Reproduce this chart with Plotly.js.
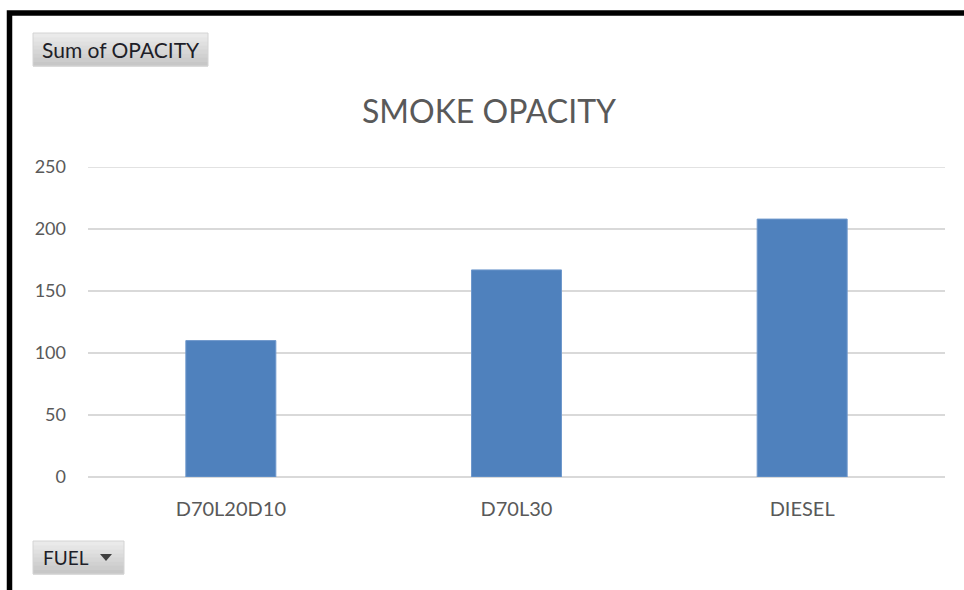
<!DOCTYPE html>
<html>
<head>
<meta charset="utf-8">
<script src="https://cdn.plot.ly/plotly-3.0.1.min.js"></script>
<style>
  html, body { margin: 0; padding: 0; background: #ffffff; }
  #chart { width: 964px; height: 590px; }
</style>
</head>
<body>
<div id="chart"></div>
<script>
// Pivot chart data: sum of smoke opacity per fuel blend
var fuels = ["D70L20D10", "D70L30", "DIESEL"];
var opacity = [110, 167, 208];
var yTicks = [0, 50, 100, 150, 200, 250];

var W = 964, H = 590;
var M = { l: 88, r: 19, t: 167, b: 113 };
var plotW = W - M.l - M.r, plotH = H - M.t - M.b;

// pixel -> paper helpers for the decorations around the plot
function px(x) { return (x - M.l) / plotW; }
function py(y) { return (H - M.b - y) / plotH; }

function rect(x0, y0, x1, y1, fill, line) {
  return {
    type: "rect", xref: "paper", yref: "paper", layer: "above",
    x0: px(x0), x1: px(x1), y0: py(y1), y1: py(y0),
    fillcolor: fill, line: { color: line || fill, width: line ? 1 : 0 }
  };
}

// grey field buttons with a soft vertical shading
function fieldButton(x0, y0, x1, y1) {
  var out = [];
  var steps = 8, h = (y1 - y0) / steps;
  for (var i = 0; i < steps; i++) {
    var c = Math.round(234 - i * 5);
    var col = "rgb(" + c + "," + c + "," + c + ")";
    out.push(rect(x0, y0 + i * h, x1, y0 + (i + 1) * h + 0.5, col));
  }
  out.push({
    type: "rect", xref: "paper", yref: "paper", layer: "above",
    x0: px(x0), x1: px(x1), y0: py(y1), y1: py(y0),
    fillcolor: "rgba(0,0,0,0)", line: { color: "#d4d4d4", width: 1 }
  });
  return out;
}

var shapes = [];

// top gridline sits on the edge of the value range
shapes.push({
  type: "line", xref: "paper", yref: "y", layer: "below",
  x0: 0, x1: 1, y0: yTicks[yTicks.length - 1], y1: yTicks[yTicks.length - 1],
  line: { color: "#d9d9d9", width: 1.5 }
});

shapes = shapes.concat(fieldButton(33, 33, 208, 66));
shapes = shapes.concat(fieldButton(33, 541, 124, 574));

// dropdown arrow on the FUEL button
shapes.push({
  type: "path", xref: "paper", yref: "paper", layer: "above",
  path: "M " + px(100) + "," + py(554) + " L " + px(112) + "," + py(554) +
        " L " + px(106) + "," + py(561) + " Z",
  fillcolor: "#404040", line: { width: 0 }
});

// black frame along the left and top edges
shapes.push({
  type: "path", xref: "paper", yref: "paper", layer: "above",
  path: "M " + px(9.5) + "," + py(600) + " L " + px(9.5) + "," + py(13) +
        " L " + px(980) + "," + py(13),
  line: { color: "#000000", width: 5.5 }
});

var trace = {
  type: "bar",
  x: fuels,
  y: opacity,
  marker: { color: "#4f81bd", line: { color: "#6f98cc", width: 1 } },
  hoverinfo: "x+y"
};

var FONT = "Lato, 'Open Sans', sans-serif";

var layout = {
  width: W, height: H,
  margin: M,
  paper_bgcolor: "#ffffff",
  plot_bgcolor: "#ffffff",
  showlegend: false,
  bargap: 0.685,
  font: { family: FONT, color: "#595959" },
  title: {
    text: "SMOKE OPACITY",
    font: { family: FONT, size: 32, color: "#595959" },
    xref: "container", yref: "container",
    x: 489 / W, xanchor: "center",
    y: 1 - 112 / H, yanchor: "middle"
  },
  xaxis: {
    type: "category",
    showgrid: false,
    showline: false,
    ticks: "",
    ticklabelstandoff: 18,
    tickfont: { size: 20, color: "#595959" },
    fixedrange: true
  },
  yaxis: {
    range: [0, 250],
    tickvals: yTicks,
    ticktext: yTicks.map(String),
    showgrid: true,
    gridcolor: "#d9d9d9",
    gridwidth: 1.5,
    zeroline: true,
    zerolinecolor: "#d9d9d9",
    zerolinewidth: 1.5,
    showline: false,
    ticks: "",
    ticklabelstandoff: 21,
    tickfont: { size: 18, color: "#595959" },
    fixedrange: true
  },
  shapes: shapes,
  annotations: [
    {
      xref: "paper", yref: "paper", x: px(40), y: py(49.5),
      text: "Sum of OPACITY", showarrow: false,
      xanchor: "left", yanchor: "middle",
      font: { family: FONT, size: 21, color: "#1e1e28" }
    },
    {
      xref: "paper", yref: "paper", x: px(41), y: py(557.5),
      text: "FUEL", showarrow: false,
      xanchor: "left", yanchor: "middle",
      font: { family: FONT, size: 19, color: "#1e1e28" }
    }
  ]
};

Plotly.newPlot("chart", [trace], layout, { displayModeBar: false, staticPlot: true });
</script>
</body>
</html>
